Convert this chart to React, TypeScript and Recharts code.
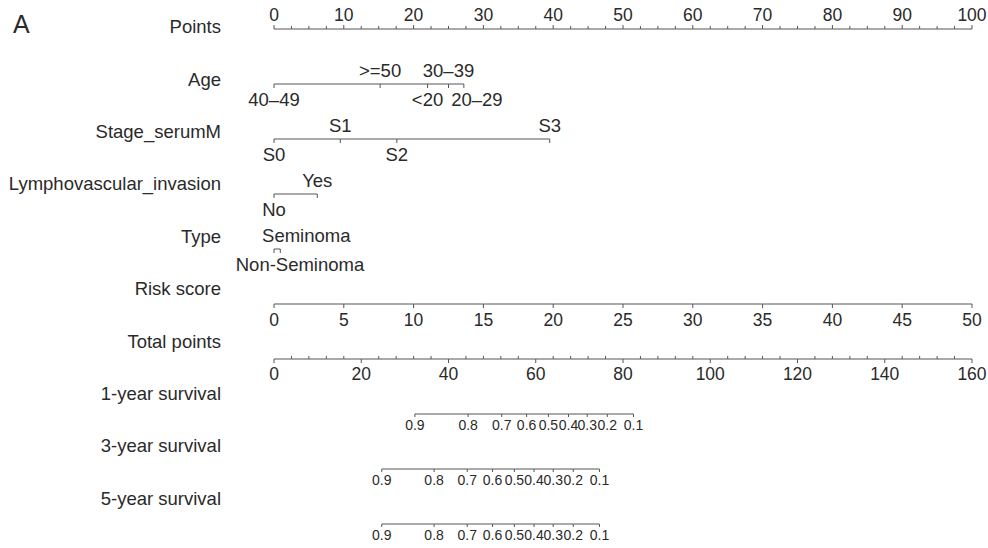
import { ComposedChart, Line, XAxis, YAxis } from "recharts";

// row names, top to bottom
const rowNames = [
  "Points",
  "Age",
  "Stage_serumM",
  "Lymphovascular_invasion",
  "Type",
  "Risk score",
  "Total points",
  "1-year survival",
  "3-year survival",
  "5-year survival",
];

const pointsTicks = [0, 10, 20, 30, 40, 50, 60, 70, 80, 90, 100];

const ageLevels = ["40–49", ">=50", "<20", "30–39", "20–29"];
const agePoints = [0, 15.2, 22.0, 25.0, 27.2];

const stageLevels = ["S0", "S1", "S2", "S3"];
const stagePoints = [0, 9.5, 17.6, 39.5];

const lviLevels = ["No", "Yes"];
const lviPoints = [0, 6.2];

const typeLevels = ["Non-Seminoma", "Seminoma"];
const typePoints = [0, 0.9];

const riskTicks = [0, 5, 10, 15, 20, 25, 30, 35, 40, 45, 50];
const totalTicks = [0, 20, 40, 60, 80, 100, 120, 140, 160];

const survProbs = ["0.9", "0.8", "0.7", "0.6", "0.5", "0.4", "0.3", "0.2", "0.1"];
const surv1Total = [32.3, 44.5, 52.2, 57.9, 62.9, 67.5, 71.8, 76.4, 82.4];
const surv3Total = [24.7, 36.7, 44.3, 50.1, 55.1, 59.6, 64.0, 68.6, 74.6];
const surv5Total = [24.7, 36.7, 44.3, 50.1, 55.1, 59.6, 64.0, 68.6, 74.6];

const FONT = '"Liberation Sans", Arial, Helvetica, sans-serif';
const INK = "#2a2a2a";
const RULE = "#555";

// labels that the original layout pushed sideways to avoid crowding
const labelNudge: Record<string, number> = { "20–29": 13, Seminoma: 26, "Non-Seminoma": 26 };

type TickPt = { x: number; y: number; label?: string; side?: "above" | "below" };

// categorical rows: labels alternate below / above, starting below
function catRow(row: number, levels: string[], pts: number[]): TickPt[] {
  return levels.map((l, i) => ({ x: pts[i], y: row, label: l, side: i % 2 === 0 ? "below" : "above" }));
}

function scaleRow(row: number, major: number[], step: number, side: "above" | "below"): TickPt[] {
  const out: TickPt[] = [];
  const max = major[major.length - 1];
  for (let v = 0; v <= max + 1e-9; v += step) {
    const isMajor = major.some((m) => Math.abs(m - v) < 1e-6);
    out.push({ x: v, y: row, label: isMajor ? String(Math.round(v)) : undefined, side });
  }
  return out;
}

const pointsData = scaleRow(0, pointsTicks, 2.5, "above");
const ageData = catRow(1, ageLevels, agePoints);
const stageData = catRow(2, stageLevels, stagePoints);
const lviData = catRow(3, lviLevels, lviPoints);
const typeData = catRow(4, typeLevels, typePoints);
const riskData: TickPt[] = riskTicks.map((v) => ({ x: v, y: 5, label: String(v), side: "below" }));
const totalData = scaleRow(6, totalTicks, 4, "below");
const survRow = (row: number, tp: number[]): TickPt[] =>
  tp.map((v, i) => ({ x: v, y: row, label: survProbs[i], side: "below" }));
const surv1Data = survRow(7, surv1Total);
const surv3Data = survRow(8, surv3Total);
const surv5Data = survRow(9, surv5Total);

type TickStyle = {
  majorDir: number; // -1 up, 1 down
  minorDir: number;
  len: number;
  fontSize: number;
  above: number;
  below: number;
};

function makeDot(st: TickStyle) {
  return (props: any) => {
    const { cx, cy, payload, index } = props;
    if (cx == null || cy == null) return <g key={index} />;
    const p = payload as TickPt;
    const major = p.label !== undefined;
    const dir = major ? st.majorDir : st.minorDir;
    const len = major ? st.len : st.len - 1;
    const ty = p.side === "above" ? cy - st.above : cy + st.below;
    const nudge = (p.label && labelNudge[p.label]) || 0;
    return (
      <g key={index}>
        <line x1={cx} x2={cx} y1={cy} y2={cy + dir * len} stroke={RULE} strokeWidth={1} />
        {major && (
          <text
            x={cx + nudge}
            y={ty}
            textAnchor="middle"
            dominantBaseline="central"
            fontSize={st.fontSize}
            fontFamily={FONT}
            fill={INK}
          >
            {p.label}
          </text>
        )}
      </g>
    );
  };
}

const catStyle: TickStyle = { majorDir: 1, minorDir: 1, len: 4, fontSize: 18.5, above: 14, below: 15 };

const NameTick = (props: any) => {
  const { y, payload } = props;
  const i = payload.value as number;
  return (
    <text
      x={221}
      y={y - 2.3 - 2.6 * i}
      textAnchor="end"
      dominantBaseline="central"
      fontSize={18.5}
      fontFamily={FONT}
      fill={INK}
    >
      {rowNames[i]}
    </text>
  );
};

export default function App() {
  const common = {
    dataKey: "y",
    yAxisId: "rows",
    stroke: RULE,
    strokeWidth: 1,
    isAnimationActive: false,
    activeDot: false,
    legendType: "none" as const,
  };
  return (
    <div style={{ position: "fixed", left: 0, top: 0, width: 988, height: 548, background: "#fff" }}>
      <div
        style={{
          position: "absolute",
          left: 13,
          top: 9,
          fontFamily: FONT,
          fontSize: 25,
          color: INK,
          lineHeight: "30px",
        }}
      >
        A
      </div>
      <ComposedChart width={988} height={548} margin={{ top: 29, right: 16, bottom: 24, left: 0 }}>
        <XAxis xAxisId="pts" type="number" dataKey="x" domain={[0, 100]} hide />
        <XAxis xAxisId="risk" type="number" dataKey="x" domain={[0, 50]} hide />
        <XAxis xAxisId="total" type="number" dataKey="x" domain={[0, 160]} hide />
        <YAxis
          yAxisId="rows"
          type="number"
          domain={[0, 9]}
          reversed
          ticks={[0, 1, 2, 3, 4, 5, 6, 7, 8, 9]}
          interval={0}
          width={274}
          axisLine={false}
          tickLine={false}
          tick={NameTick}
        />
        <Line
          {...common}
          xAxisId="pts"
          data={pointsData}
          dot={makeDot({ majorDir: -1, minorDir: -1, len: 4, fontSize: 17.5, above: 14, below: 15 })}
        />
        <Line {...common} xAxisId="pts" data={ageData} dot={makeDot(catStyle)} />
        <Line {...common} xAxisId="pts" data={stageData} dot={makeDot(catStyle)} />
        <Line {...common} xAxisId="pts" data={lviData} dot={makeDot(catStyle)} />
        <Line {...common} xAxisId="pts" data={typeData} dot={makeDot(catStyle)} />
        <Line
          {...common}
          xAxisId="risk"
          data={riskData}
          dot={makeDot({ majorDir: 1, minorDir: 1, len: 4, fontSize: 17.5, above: 14, below: 16 })}
        />
        <Line
          {...common}
          xAxisId="total"
          data={totalData}
          dot={makeDot({ majorDir: 1, minorDir: -1, len: 4, fontSize: 17.5, above: 14, below: 15 })}
        />
        {[surv1Data, surv3Data, surv5Data].map((d, k) => (
          <Line
            key={k}
            {...common}
            xAxisId="total"
            data={d}
            dot={makeDot({ majorDir: 1, minorDir: 1, len: 3, fontSize: 14, above: 11, below: 11 })}
          />
        ))}
      </ComposedChart>
    </div>
  );
}
